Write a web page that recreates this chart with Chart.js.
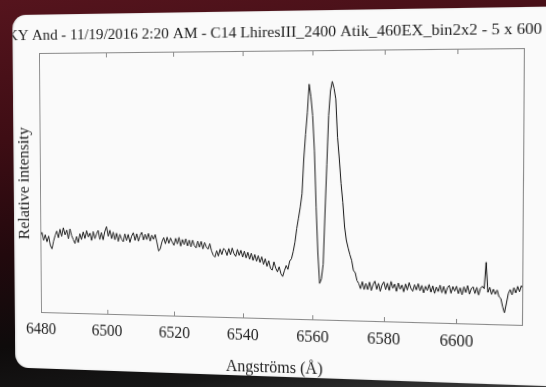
<!DOCTYPE html>
<html>
<head>
<meta charset="utf-8">
<script src="https://cdn.jsdelivr.net/npm/chart.js@4.4.1/dist/chart.umd.min.js"></script>
<style>
  html, body { margin: 0; padding: 0; }
  body {
    width: 546px; height: 387px; overflow: hidden; position: relative;
    background: linear-gradient(172deg, #55141d 0%, #3e0d14 30%, #22090d 55%, #0e0b0b 75%, #161616 88%, #3c3c3c 100%);
  }
  #stage { position: absolute; left: 0; top: 0; width: 560px; height: 380px; transform-origin: 0 0; }
  .card {
    position: absolute; left: 12px; top: 15px; width: 600px; height: 354px;
    background: #fafafa; border-radius: 14px; overflow: hidden;
    box-shadow: inset 1px 0 2px rgba(0,0,0,0.15);
  }
  .card canvas { position: absolute; left: -12px; top: -15px; }
</style>
</head>
<body>
<div id="stage">
  <div class="card"><canvas id="spectrum" width="560" height="380"></canvas></div>
</div>
<script>
// wavelength grid (Å)
const wavelengths = [
  6480,6480.5,6481,6481.5,6482,6482.5,6483,6483.5,6484,6484.5,
  6485,6485.5,6486,6486.5,6487,6487.5,6488,6488.5,6489,6489.5,
  6490,6490.5,6491,6491.5,6492,6492.5,6493,6493.5,6494,6494.5,
  6495,6495.5,6496,6496.5,6497,6497.5,6498,6498.5,6499,6499.5,
  6500,6500.5,6501,6501.5,6502,6502.5,6503,6503.5,6504,6504.5,
  6505,6505.5,6506,6506.5,6507,6507.5,6508,6508.5,6509,6509.5,
  6510,6510.5,6511,6511.5,6512,6512.5,6513,6513.5,6514,6514.5,
  6515,6515.5,6516,6516.5,6517,6517.5,6518,6518.5,6519,6519.5,
  6520,6520.5,6521,6521.5,6522,6522.5,6523,6523.5,6524,6524.5,
  6525,6525.5,6526,6526.5,6527,6527.5,6528,6528.5,6529,6529.5,
  6530,6530.5,6531,6531.5,6532,6532.5,6533,6533.5,6534,6534.5,
  6535,6535.5,6536,6536.5,6537,6537.5,6538,6538.5,6539,6539.5,
  6540,6540.5,6541,6541.5,6542,6542.5,6543,6543.5,6544,6544.5,
  6545,6545.5,6546,6546.5,6547,6547.5,6548,6548.5,6549,6549.5,
  6550,6550.5,6551,6551.5,6552,6552.5,6553,6553.5,6554,6554.5,
  6555,6555.5,6556,6556.5,6557,6557.5,6558,6558.5,6559,6559.5,
  6560,6560.5,6561,6561.5,6562,6562.5,6563,6563.5,6564,6564.5,
  6565,6565.5,6566,6566.5,6567,6567.5,6568,6568.5,6569,6569.5,
  6570,6570.5,6571,6571.5,6572,6572.5,6573,6573.5,6574,6574.5,
  6575,6575.5,6576,6576.5,6577,6577.5,6578,6578.5,6579,6579.5,
  6580,6580.5,6581,6581.5,6582,6582.5,6583,6583.5,6584,6584.5,
  6585,6585.5,6586,6586.5,6587,6587.5,6588,6588.5,6589,6589.5,
  6590,6590.5,6591,6591.5,6592,6592.5,6593,6593.5,6594,6594.5,
  6595,6595.5,6596,6596.5,6597,6597.5,6598,6598.5,6599,6599.5,
  6600,6600.5,6601,6601.5,6602,6602.5,6603,6603.5,6604,6604.5,
  6605,6605.5,6606,6606.5,6607,6607.5,6608,6608.5,6609,6609.5,
  6610,6610.5,6611,6611.5,6612,6612.5,6613,6613.5,6614,6614.5,
  6615,6615.5,6616,6616.5,6617,6617.5,6618
];

// relative intensity
const intensity = [
  0.295,0.312,0.281,0.303,0.276,0.298,0.262,0.249,0.279,0.301,
  0.318,0.292,0.325,0.298,0.331,0.304,0.322,0.289,0.327,0.301,
  0.286,0.271,0.298,0.275,0.309,0.287,0.316,0.291,0.321,0.297,
  0.312,0.284,0.318,0.291,0.309,0.323,0.288,0.315,0.287,0.319,
  0.338,0.301,0.324,0.292,0.317,0.288,0.313,0.282,0.309,0.291,
  0.281,0.311,0.286,0.309,0.279,0.303,0.316,0.287,0.312,0.284,
  0.306,0.318,0.289,0.311,0.291,0.314,0.285,0.308,0.292,0.310,
  0.281,0.248,0.257,0.284,0.299,0.276,0.301,0.278,0.298,0.282,
  0.271,0.297,0.276,0.301,0.268,0.293,0.274,0.296,0.269,0.291,
  0.266,0.291,0.271,0.262,0.288,0.265,0.287,0.259,0.283,0.266,
  0.258,0.279,0.252,0.236,0.229,0.253,0.233,0.259,0.239,0.262,
  0.255,0.236,0.262,0.239,0.264,0.243,0.233,0.259,0.237,0.256,
  0.231,0.253,0.228,0.249,0.223,0.246,0.219,0.241,0.216,0.237,
  0.212,0.233,0.205,0.226,0.198,0.219,0.191,0.184,0.215,0.192,
  0.178,0.197,0.171,0.161,0.183,0.202,0.188,0.219,0.228,0.255,
  0.290,0.340,0.380,0.420,0.470,0.600,0.690,0.770,0.875,0.830,
  0.760,0.630,0.420,0.250,0.138,0.155,0.210,0.400,0.580,0.760,
  0.850,0.885,0.860,0.820,0.680,0.600,0.510,0.440,0.350,0.300,
  0.272,0.247,0.226,0.189,0.181,0.152,0.141,0.122,0.148,0.119,
  0.142,0.119,0.147,0.116,0.139,0.151,0.121,0.143,0.114,0.138,
  0.149,0.121,0.144,0.118,0.151,0.126,0.142,0.115,0.146,0.123,
  0.139,0.114,0.143,0.121,0.148,0.127,0.117,0.141,0.122,0.145,
  0.119,0.139,0.112,0.136,0.121,0.143,0.115,0.138,0.111,0.134,
  0.118,0.141,0.114,0.137,0.110,0.133,0.141,0.113,0.137,0.121,
  0.139,0.112,0.133,0.108,0.137,0.117,0.142,0.111,0.131,0.138,
  0.114,0.136,0.109,0.133,0.141,0.132,0.228,0.119,0.137,0.112,
  0.131,0.113,0.128,0.104,0.098,0.068,0.046,0.081,0.116,0.131,
  0.112,0.138,0.119,0.143,0.124,0.146,0.134
];

const xTicks = [6480, 6500, 6520, 6540, 6560, 6580, 6600];
const chartTitle = 'KY And - 11/19/2016 2:20 AM - C14 LhiresIII_2400 Atik_460EX_bin2x2 - 5 x 600';

const serif = '"Liberation Serif", "Times New Roman", serif';

// where the plot box sits in the photo (TL, TR, BR, BL)
const photoQuad = [[39, 53], [525, 48], [523, 326], [41, 313]];

// box, inward ticks and title
const framePlugin = {
  id: 'frame',
  afterDraw(chart) {
    const ctx = chart.ctx;
    const a = chart.chartArea;
    const x = chart.scales.x;
    ctx.save();
    ctx.strokeStyle = '#8a8a8a';
    ctx.lineWidth = 1;
    ctx.strokeRect(a.left + 0.5, a.top + 0.5, a.right - a.left - 1, a.bottom - a.top - 1);
    ctx.beginPath();
    xTicks.forEach(v => {
      if (v === xTicks[0]) return;
      const px = Math.round(x.getPixelForValue(v)) + 0.5;
      ctx.moveTo(px, a.bottom);
      ctx.lineTo(px, a.bottom - 5);
      ctx.moveTo(px, a.top);
      ctx.lineTo(px, a.top + 5);
    });
    ctx.stroke();
    ctx.fillStyle = '#1e1e1e';
    ctx.font = '15.6px ' + serif;
    ctx.textAlign = 'center';
    ctx.textBaseline = 'alphabetic';
    ctx.fillText(chartTitle, (a.left + a.right) / 2 - 9, 40);
    ctx.restore();
  }
};

function fitQuad(r, q) {
  const [p0, p1, p2, p3] = q;
  const dx1 = p1[0] - p2[0], dx2 = p3[0] - p2[0], dx3 = p0[0] - p1[0] + p2[0] - p3[0];
  const dy1 = p1[1] - p2[1], dy2 = p3[1] - p2[1], dy3 = p0[1] - p1[1] + p2[1] - p3[1];
  const den = dx1 * dy2 - dx2 * dy1;
  const g = (dx3 * dy2 - dx2 * dy3) / den;
  const h = (dx1 * dy3 - dx3 * dy1) / den;
  const a = p1[0] - p0[0] + g * p1[0], b = p3[0] - p0[0] + h * p3[0], c = p0[0];
  const d = p1[1] - p0[1] + g * p1[1], e = p3[1] - p0[1] + h * p3[1], f = p0[1];
  const w = r.right - r.left, hh = r.bottom - r.top;
  const A = a / w, B = b / hh, C = c - a * r.left / w - b * r.top / hh;
  const D = d / w, E = e / hh, F = f - d * r.left / w - e * r.top / hh;
  const G = g / w, H = h / hh, I = 1 - g * r.left / w - h * r.top / hh;
  return 'matrix3d(' + [A / I, D / I, 0, G / I, B / I, E / I, 0, H / I, 0, 0, 1, 0, C / I, F / I, 0, 1].join(',') + ')';
}

const chart = new Chart(document.getElementById('spectrum'), {
  type: 'line',
  data: {
    datasets: [{
      data: wavelengths.map((w, i) => ({ x: w, y: intensity[i] })),
      borderColor: '#1c1c1c',
      borderWidth: 1,
      pointRadius: 0,
      tension: 0,
      fill: false
    }]
  },
  options: {
    responsive: false,
    animation: false,
    layout: { padding: { left: 0, top: 53, right: 40, bottom: 0 } },
    plugins: { legend: { display: false }, tooltip: { enabled: false } },
    scales: {
      x: {
        type: 'linear',
        min: 6480,
        max: 6618,
        afterBuildTicks: s => { s.ticks = xTicks.map(v => ({ value: v })); },
        afterFit: s => { s.height = 67; },
        grid: { display: false, drawTicks: false },
        border: { display: false },
        ticks: {
          font: { family: serif, size: 16 }, color: '#222', padding: 7, maxRotation: 0, autoSkip: false,
          callback: v => String(v)
        },
        title: { display: true, text: 'Angströms (Å)', font: { family: serif, size: 16 }, color: '#1e1e1e', padding: { top: 0, bottom: 10 } }
      },
      y: {
        min: 0,
        max: 1,
        afterFit: s => { s.width = 40; },
        grid: { display: false, drawTicks: false },
        border: { display: false },
        ticks: { display: false },
        title: { display: true, text: 'Relative intensity', font: { family: serif, size: 16 }, color: '#1e1e1e', padding: { top: 14, bottom: 0 } }
      }
    }
  },
  plugins: [framePlugin]
});

document.getElementById('stage').style.transform = fitQuad(chart.chartArea, photoQuad);
</script>
</body>
</html>
